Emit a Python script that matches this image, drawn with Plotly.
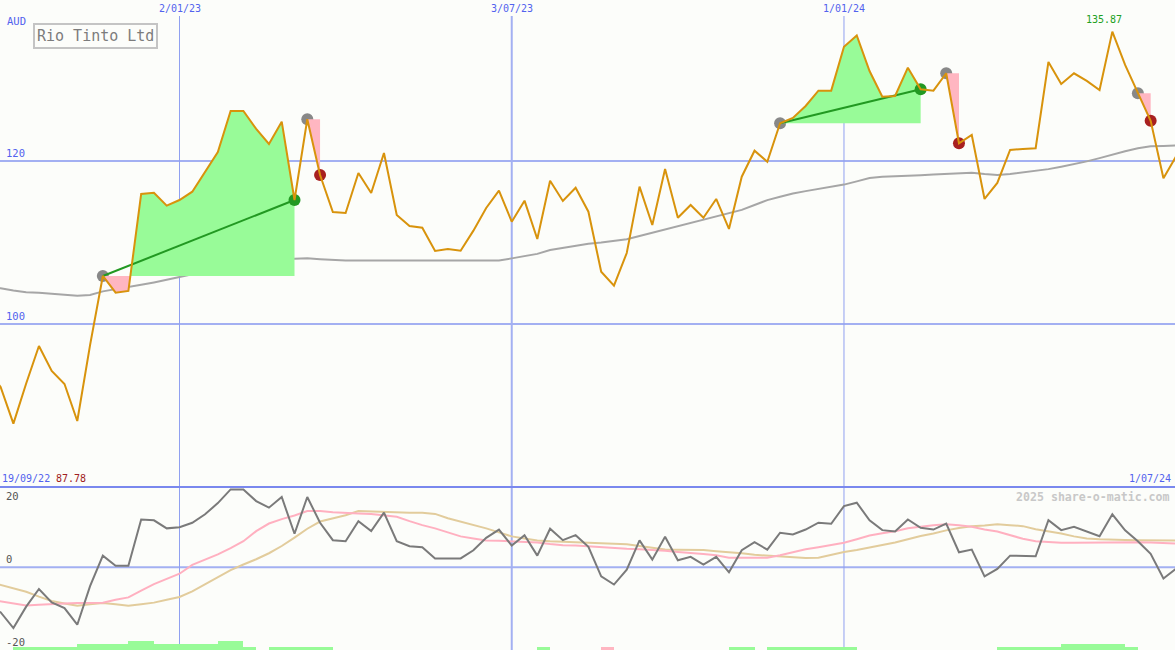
import plotly.graph_objects as go
import pandas as pd

# ---------------- data ----------------
start_date = "2022-09-19"
n_weeks = 94
dates = pd.date_range(start_date, periods=n_weeks, freq="7D")

price = [94.4, 92.27, 87.78, 92.7, 97.30, 94.23, 92.64, 88.10, 97.4, 105.89,
         103.84, 104.05, 115.95, 116.11, 114.52, 115.21, 116.23, 118.65, 121.10, 126.13,
         126.13, 123.93, 122.09, 124.82, 115.21, 125.12, 118.28, 113.74, 113.62, 118.53,
         116.07, 120.98, 113.37, 112.02, 111.82, 108.96, 109.20, 108.99, 111.45, 114.23,
         116.36, 112.55, 115.13, 110.43, 117.58, 115.09, 116.72, 113.78, 106.42, 104.70,
         108.71, 116.85, 112.15, 119.02, 113.04, 114.60, 113.04, 115.34, 111.66, 118.07,
         121.26, 119.91, 124.63, 125.28, 126.75, 128.63, 128.63, 134.02, 135.40, 131.04,
         127.89, 127.98, 131.45, 128.80, 128.63, 130.76, 122.17, 123.19, 115.34, 117.30,
         121.35, 121.47, 121.56, 132.15, 129.45, 130.76, 129.82, 128.71, 135.87, 131.78,
         128.31, 124.94, 117.88, 120.6]

ma_price = [104.5, 104.38, 104.1, 103.9, 103.84, 103.75, 103.6, 103.45, 103.55, 104.0,
            104.25, 104.5, 104.8, 105.1, 105.45, 105.8, 106.1, 106.4, 106.65, 106.9,
            107.1, 107.5, 107.85, 107.95, 108.0, 108.05, 107.95, 107.85, 107.8, 107.8,
            107.8, 107.8, 107.8, 107.82, 107.85, 107.85, 107.82, 107.8, 107.8, 107.78,
            107.8, 108.05, 108.3, 108.6, 109.08, 109.35, 109.6, 109.85, 110.0, 110.2,
            110.4, 110.8, 111.2, 111.6, 112.0, 112.4, 112.8, 113.15, 113.55, 114.0,
            114.6, 115.2, 115.6, 116.0, 116.3, 116.55, 116.8, 117.1, 117.5, 117.9,
            118.05, 118.1, 118.2, 118.25, 118.35, 118.4, 118.5, 118.56, 118.4, 118.28,
            118.4, 118.6, 118.77, 119.0, 119.3, 119.6, 119.95, 120.35, 120.8, 121.2,
            121.55, 121.8, 121.85, 121.9]

osc = [-10.0, -11.2, -15.15, -9.8, -5.4, -8.75, -10.15, -14.3, -4.7, 2.9,
       0.4, 0.4, 11.9, 11.7, 9.7, 10.0, 11.1, 13.2, 16.0, 19.4,
       19.4, 16.5, 14.85, 17.5, 8.35, 17.5, 11.1, 6.75, 6.5, 11.5,
       9.0, 13.6, 6.5, 5.25, 5.0, 2.2, 2.2, 2.2, 4.25, 7.35,
       9.4, 5.4, 8.0, 2.9, 9.6, 6.75, 8.0, 5.1, -2.25, -4.3,
       -0.6, 6.7, 1.9, 7.6, 1.75, 2.6, 0.7, 2.6, -1.25, 4.25,
       6.25, 4.4, 8.6, 8.2, 9.4, 11.1, 10.85, 15.25, 16.1, 11.7,
       9.25, 8.9, 11.9, 9.85, 9.4, 10.9, 3.75, 4.4, -2.25, -0.4,
       2.9, 2.85, 2.75, 11.75, 9.25, 10.1, 8.9, 7.75, 13.2, 9.2,
       6.5, 3.35, -2.8, -0.3]

osc_pink = [-8.0, -8.5, -9.0, -9.5, -9.3, -9.1, -9.0, -8.9, -8.9, -8.8,
            -8.1, -7.5, -5.8, -4.2, -2.9, -1.6, 0.6, 1.9, 3.2, 4.8,
            6.5, 9.0, 10.9, 12.0, 12.9, 14.0, 14.0, 13.7, 13.5, 13.4,
            13.3, 13.0, 12.6, 11.5, 10.5, 9.7, 8.7, 7.7, 7.2, 6.7,
            6.6, 6.5, 6.35, 6.2, 5.8, 5.5, 5.4, 5.2, 5.0, 4.7,
            4.6, 4.5, 4.35, 4.1, 3.8, 3.6, 3.3, 3.0, 2.4, 2.4,
            2.4, 2.4, 3.0, 3.8, 4.5, 5.0, 5.5, 6.1, 7.0, 7.9,
            8.5, 9.0, 9.7, 10.1, 10.45, 10.7, 10.5, 10.1, 9.4, 8.9,
            8.0, 7.1, 6.5, 6.3, 6.1, 6.1, 6.15, 6.2, 6.25, 6.25,
            6.25, 6.2, 6.0, 5.9]

osc_tan = [-3.5, -4.4, -5.2, -6.1, -7.3, -8.4, -9.0, -9.6, -9.2, -8.9,
           -9.2, -9.6, -9.2, -8.8, -8.1, -7.4, -6.0, -4.3, -2.5, -0.7,
           0.7, 2.0, 3.5, 5.3, 7.4, 9.6, 11.4, 12.1, 12.95, 14.0,
           13.9, 13.75, 13.6, 13.6, 13.6, 13.3, 12.2, 11.4, 10.5, 9.7,
           8.7, 7.7, 7.2, 6.7, 6.5, 6.4, 6.2, 6.05, 6.0, 5.9,
           5.75, 5.3, 4.9, 4.45, 4.4, 4.4, 4.3, 4.0, 3.8, 3.5,
           3.1, 2.9, 2.7, 2.35, 2.3, 2.4, 3.1, 3.8, 4.3, 4.9,
           5.5, 6.2, 7.0, 7.8, 8.4, 9.2, 9.8, 10.2, 10.4, 10.7,
           10.5, 10.25, 9.5, 9.0, 8.4, 7.7, 7.2, 7.0, 6.85, 6.8,
           6.75, 6.7, 6.7, 6.7]

# signal strength bars (positive = green, negative = pink)
signal_bars = [0, 0, 1, 1, 1, 1, 1, 2, 2, 2,
               2, 3, 3, 2, 2, 2, 2, 2, 3, 3,
               1, 0, 1, 1, 1, 1, 1, 0, 0, 0,
               0, 0, 0, 0, 0, 0, 0, 0, 0, 0,
               0, 0, 0, 1, 0, 0, 0, 0, -1, 0,
               0, 0, 0, 0, 0, 0, 0, 0, 1, 1,
               0, 1, 1, 1, 1, 1, 1, 1, 0, 0,
               0, 0, 0, 0, 0, 0, 0, 0, 0, 1,
               1, 1, 1, 1, 2, 2, 2, 2, 2, 1,
               0, 0, 0, 0]

entry_idx = [9, 25, 62, 75, 90]
exit_idx = [24, 26, 73, 76, 91]

grid_dates = ["2023-01-02", "2023-07-03", "2024-01-01"]
grid_labels = ["2/01/23", "3/07/23", "1/01/24"]
grid_widths = [1, 2, 1]
price_ticks = [120, 100]

title_text = "Rio Tinto Ltd"
currency = "AUD"
first_date_label = "19/09/22"
min_label = "87.78"
last_date_label = "1/07/24"
max_label = "135.87"
credit = "2025 share-o-matic.com"

# ---------------- styles ----------------
FONT = "DejaVu Sans Mono"
BLUE = "#5262ee"
GRID = "#a3b0f2"
SEP = "#7a88ee"
BG = "#fcfdfa"
ORANGE = "#d8930c"
W, H = 1175, 650
split = 163 / 650

fig = go.Figure()

# moving average of price
fig.add_trace(go.Scatter(x=dates, y=ma_price, mode="lines",
                         line=dict(color="#a6a6a6", width=2), hoverinfo="skip"))

# entry markers
fig.add_trace(go.Scatter(x=[dates[i] for i in entry_idx], y=[price[i] for i in entry_idx],
                         mode="markers", marker=dict(size=12, color="#888888"),
                         hoverinfo="skip"))


def trade_segment(i0, i1):
    lvl = price[i0]
    xs, ps = [], []
    for i in range(i0, i1 + 1):
        if i > i0:
            a, b = price[i - 1] - lvl, price[i] - lvl
            if a * b < 0:
                f = a / (a - b)
                xs.append(dates[i - 1] + (dates[i] - dates[i - 1]) * f)
                ps.append(lvl)
        xs.append(dates[i])
        ps.append(price[i])
    return lvl, xs, ps


for i0, i1 in zip(entry_idx, exit_idx):
    lvl, xs, ps = trade_segment(i0, i1)
    up = [max(p, lvl) for p in ps]
    dn = [min(p, lvl) for p in ps]
    fig.add_trace(go.Scatter(x=list(xs) + list(xs[::-1]), y=up + [lvl] * len(xs),
                             fill="toself", fillcolor="#98fb98", mode="lines",
                             line=dict(width=0, color="rgba(0,0,0,0)"), hoverinfo="skip"))
    fig.add_trace(go.Scatter(x=list(xs) + list(xs[::-1]), y=dn + [lvl] * len(xs),
                             fill="toself", fillcolor="#ffb6c1", mode="lines",
                             line=dict(width=0, color="rgba(0,0,0,0)"), hoverinfo="skip"))
    if price[i1] > lvl:
        fig.add_trace(go.Scatter(x=[dates[i0], dates[i1]], y=[lvl, price[i1]], mode="lines",
                                 line=dict(color="#229922", width=2), hoverinfo="skip"))

# exit markers
fig.add_trace(go.Scatter(x=[dates[i] for i in exit_idx], y=[price[i] for i in exit_idx],
                         mode="markers",
                         marker=dict(size=12, color=["#229922" if price[j] > price[i] else "#a82020"
                                                     for i, j in zip(entry_idx, exit_idx)]),
                         hoverinfo="skip"))

# price line
fig.add_trace(go.Scatter(x=dates, y=price, mode="lines",
                         line=dict(color=ORANGE, width=2), hoverinfo="skip"))

# lower panel: bars
fig.add_trace(go.Bar(x=dates, y=[abs(b) * 0.75 for b in signal_bars], base=-20.6,
                     offset=0, width=7 * 86400000, yaxis="y2",
                     marker=dict(color=["#ffb6c1" if b < 0 else "#98fb98" for b in signal_bars],
                                 line=dict(width=0)),
                     hoverinfo="skip"))
fig.add_trace(go.Scatter(x=dates, y=osc_tan, mode="lines", yaxis="y2",
                         line=dict(color="#e2cc9c", width=2), hoverinfo="skip"))
fig.add_trace(go.Scatter(x=dates, y=osc_pink, mode="lines", yaxis="y2",
                         line=dict(color="#ffb0c0", width=2), hoverinfo="skip"))
fig.add_trace(go.Scatter(x=dates, y=osc, mode="lines", yaxis="y2",
                         line=dict(color="#7a7a7a", width=2), hoverinfo="skip"))

shapes = []
for t in price_ticks:
    shapes.append(dict(type="line", xref="paper", x0=0, x1=1, yref="y", y0=t, y1=t,
                       line=dict(color=GRID, width=2), layer="below"))
shapes.append(dict(type="line", xref="paper", x0=0, x1=1, yref="y2", y0=0, y1=0,
                   line=dict(color=GRID, width=2), layer="below"))
for d, w in zip(grid_dates, grid_widths):
    shapes.append(dict(type="line", xref="x", x0=d, x1=d, yref="paper", y0=0, y1=1 - 16 / H,
                       line=dict(color=GRID if w > 1 else "#90a0f0", width=w), layer="below"))
shapes.append(dict(type="line", xref="paper", x0=0, x1=1, yref="paper", y0=split, y1=split,
                   line=dict(color=SEP, width=2), layer="above"))

ann = []
for d, lab in zip(grid_dates, grid_labels):
    ann.append(dict(x=d, xref="x", y=1 - 9 / H, yref="paper", text=lab, showarrow=False,
                    xanchor="center", yanchor="middle", font=dict(family=FONT, size=10, color=BLUE)))
for t in price_ticks:
    ann.append(dict(x=0, xref="paper", xshift=4, y=t, yref="y", text=str(t), showarrow=False,
                    xanchor="left", yanchor="bottom", font=dict(family=FONT, size=10.5, color=BLUE)))
ann.append(dict(x=0, xref="paper", xshift=4, y=0, yref="y2", text="0", showarrow=False,
                xanchor="left", yanchor="bottom", font=dict(family=FONT, size=10.5, color="#555555")))
ann.append(dict(x=0, xref="paper", xshift=4, y=20, yref="y2", text="20", showarrow=False,
                xanchor="left", yanchor="top", yshift=-1, font=dict(family=FONT, size=10.5, color="#555555")))
ann.append(dict(x=0, xref="paper", xshift=4, y=-20, yref="y2", text="-20", showarrow=False,
                xanchor="left", yanchor="bottom", yshift=-2, font=dict(family=FONT, size=10.5, color="#555555")))
ann.append(dict(x=5 / W, xref="paper", y=1 - 21 / H, yref="paper", text=currency, showarrow=False,
                xanchor="left", yanchor="middle", font=dict(family=FONT, size=10.5, color=BLUE)))
ann.append(dict(x=95 / W, xref="paper", y=1 - 36 / H, yref="paper", text=title_text, showarrow=False,
                xanchor="center", yanchor="middle", bordercolor="#c4c4c4", borderwidth=2, borderpad=2,
                font=dict(family=FONT, size=15, color="#7c7c7c")))
ann.append(dict(x=0, xref="paper", y=split, yref="paper", text=first_date_label, showarrow=False,
                xanchor="left", yanchor="bottom", yshift=1, font=dict(family=FONT, size=10, color=BLUE)))
ann.append(dict(x=54 / W, xref="paper", y=split, yref="paper", text=min_label, showarrow=False,
                xanchor="left", yanchor="bottom", yshift=1, font=dict(family=FONT, size=10, color="#a02020")))
ann.append(dict(x=1, xref="paper", xshift=-2, y=split, yref="paper", text=last_date_label, showarrow=False,
                xanchor="right", yanchor="bottom", yshift=1, font=dict(family=FONT, size=10, color=BLUE)))
ann.append(dict(x=1, xref="paper", xshift=-3, y=split, yref="paper", text="<b>" + credit + "</b>",
                showarrow=False, xanchor="right", yanchor="top", yshift=-1,
                font=dict(family=FONT, size=11.6, color="#c8c8c8")))
imax = price.index(max(price))
ann.append(dict(x=dates[imax], xref="x", y=price[imax], yref="y", text=max_label, showarrow=False,
                xanchor="center", yanchor="bottom", yshift=5, xshift=-8,
                font=dict(family=FONT, size=10, color="#22a022")))

fig.update_layout(
    width=W, height=H, margin=dict(l=0, r=0, t=0, b=0),
    paper_bgcolor=BG, plot_bgcolor=BG, showlegend=False,
    xaxis=dict(type="date", range=["2022-09-25 16:00", "2024-06-30 08:00"], visible=False,
               showgrid=False, zeroline=False),
    yaxis=dict(domain=[split, 1], range=[80.0, 139.75], visible=False, showgrid=False, zeroline=False),
    yaxis2=dict(domain=[0, split], range=[-20.6, 20.0], anchor="x", visible=False,
                showgrid=False, zeroline=False),
    shapes=shapes, annotations=ann, bargap=0,
)

fig.write_html("out.html", config={"displayModeBar": False},
               post_script="document.body.style.margin='0';document.body.style.padding='0';"
                           "document.body.style.overflow='hidden';")
